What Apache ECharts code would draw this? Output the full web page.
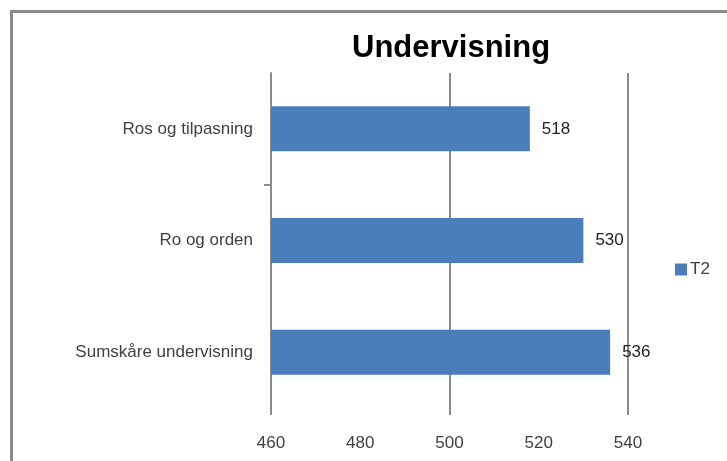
<!DOCTYPE html>
<html>
<head>
<meta charset="utf-8">
<script src="https://cdn.jsdelivr.net/npm/echarts@6/dist/echarts.min.js"></script>
<style>
  html, body { margin: 0; padding: 0; background: #ffffff; }
  #chart { width: 727px; height: 461px; }
</style>
</head>
<body>
<div id="chart"></div>
<script>
// Undervisning – T2 scores per area
const categories = ['Ros og tilpasning', 'Ro og orden', 'Sumskåre undervisning'];
const seriesName = 'T2';
const values = [518, 530, 536];
const xTicks = [460, 480, 500, 520, 540];

const textFont = '"Liberation Sans", Arial, sans-serif';
const axisGray = '#8c8c8c';

const chart = echarts.init(document.getElementById('chart'), null, { renderer: 'canvas' });

chart.setOption({
  animation: false,
  backgroundColor: '#ffffff',
  title: {
    text: 'Undervisning',
    left: 347,
    top: 28,
    textStyle: {
      fontFamily: textFont,
      fontWeight: 'bold',
      fontSize: 31,
      color: '#000000'
    }
  },
  legend: {
    data: [seriesName],
    left: 670,
    top: 256,
    icon: 'rect',
    itemWidth: 12,
    itemHeight: 12,
    itemGap: 4,
    textStyle: { fontFamily: textFont, fontSize: 17, color: '#404040', padding: [0, 0, 0, -2] }
  },
  grid: { left: 271, top: 73, width: 357, height: 335, containLabel: false },
  xAxis: [
    {
      type: 'value',
      min: xTicks[0],
      max: xTicks[xTicks.length - 1],
      interval: xTicks[1] - xTicks[0],
      axisLine: { show: false },
      axisTick: { show: false },
      splitLine: { show: false },
      axisLabel: {
        margin: 27,
        fontFamily: textFont,
        fontSize: 17,
        color: '#404040'
      }
    },
    {
      type: 'value',
      position: 'bottom',
      min: xTicks[0],
      max: xTicks[xTicks.length - 1],
      interval: (xTicks[1] - xTicks[0]) * 2,
      axisLine: { show: false },
      axisTick: { show: true, length: 7, lineStyle: { color: axisGray, width: 2 } },
      axisLabel: { show: false },
      splitLine: { show: true, lineStyle: { color: axisGray, width: 2 } }
    }
  ],
  yAxis: [
    {
      type: 'category',
      data: categories,
      inverse: true,
      axisLine: { show: true, lineStyle: { color: axisGray, width: 2 } },
      axisTick: { show: false },
      axisLabel: {
        margin: 18,
        fontFamily: textFont,
        fontSize: 17,
        color: '#404040'
      }
    },
    {
      // band index scale used only for the single divider tick
      type: 'value',
      position: 'left',
      inverse: true,
      min: 0,
      max: categories.length,
      axisLine: { show: false },
      axisLabel: { show: false },
      splitLine: { show: false },
      axisTick: {
        show: true,
        length: 7,
        customValues: [1],
        lineStyle: { color: axisGray, width: 2 }
      }
    }
  ],
  series: [
    {
      name: seriesName,
      type: 'bar',
      xAxisIndex: 0,
      yAxisIndex: 0,
      data: values,
      barWidth: 45,
      itemStyle: { color: '#4a7ebb' },
      label: {
        show: true,
        position: 'right',
        distance: 12,
        fontFamily: textFont,
        fontSize: 17,
        color: '#222222'
      }
    }
  ],
  graphic: [
    {
      type: 'rect',
      silent: true,
      shape: { x: 11.5, y: 11.5, width: 900, height: 700 },
      style: { fill: 'none', stroke: '#8a8a8a', lineWidth: 3 }
    }
  ]
});
</script>
</body>
</html>
